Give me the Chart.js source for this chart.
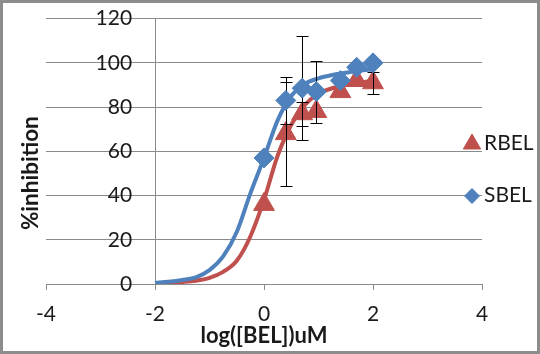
<!DOCTYPE html>
<html>
<head>
<meta charset="utf-8">
<script src="https://cdn.jsdelivr.net/npm/chart.js@4.4.0/dist/chart.umd.min.js"></script>
<style>
  html, body { margin: 0; padding: 0; background: #fff; }
  #wrap { width: 540px; height: 354px; box-sizing: border-box; border: 3px solid #8c8c8c; }
  canvas { display: block; }
</style>
</head>
<body>
<div id="wrap"><canvas id="chart" width="534" height="348"></canvas></div>
<script>
// measured points, log([BEL]) in uM
const concLog = [0, 0.4, 0.7, 0.96, 1.4, 1.7, 2];
const rbel = [36, 68, 77, 78, 87, 92, 91];
const rbelErr = [0, 23.5, 5.5, 0, 0, 0, 5];
const sbel = [57, 83, 88.5, 87, 92, 98, 100];
const sbelErr = [0, 10.5, 23.5, 14, 0, 0, 0];

// fitted curves
const fitX = [-2, -1.75, -1.5, -1.25, -1, -0.75, -0.5, -0.25, 0, 0.25, 0.5, 0.75, 1, 1.25, 1.5, 1.75, 2];
const rbelFit = [0.3, 0.5, 0.9, 1.5, 2.8, 5.5, 10.5, 21.5, 38, 58, 72, 81, 86, 88.5, 90, 91, 92];
const sbelFit = [0.5, 1.0, 1.8, 3.0, 6.3, 12.5, 23.5, 41, 57, 74, 85, 90.5, 93, 94.5, 95.5, 96.5, 97];

const xTickValues = [-4, -2, 0, 2, 4];
const yTickValues = [0, 20, 40, 60, 80, 100, 120];

const red = '#C0504D';
const blue = '#4F81BD';
const gridColor = '#8a8a8a';
const textColor = '#1a1a1a';

function pts(xs, ys) {
    return xs.map((x, i) => ({ x: x, y: ys[i] }));
}

function setYTicks(scale) {
    scale.ticks = yTickValues.map(v => ({ value: v }));
}

// error bars, drawn just before the top marker series so blue diamonds cover them
const errorBars = {
    id: 'errorBars',
    beforeDatasetDraw(chart, args) {
        if (!chart.data.datasets[args.index].errorsFirst) return;
        const ctx = chart.ctx;
        const xs = chart.scales.x, ys = chart.scales.y;
        ctx.save();
        ctx.strokeStyle = '#000';
        ctx.lineWidth = 1;
        chart.data.datasets.forEach(ds => {
            if (!ds.errors) return;
            ds.data.forEach((p, i) => {
                const e = ds.errors[i];
                if (!e) return;
                const px = Math.round(xs.getPixelForValue(p.x)) + 0.5;
                const top = Math.round(ys.getPixelForValue(p.y + e)) + 0.5;
                const bot = Math.round(ys.getPixelForValue(p.y - e)) + 0.5;
                ctx.beginPath();
                ctx.moveTo(px, top); ctx.lineTo(px, bot);
                ctx.moveTo(px - 6, top); ctx.lineTo(px + 6, top);
                ctx.moveTo(px - 6, bot); ctx.lineTo(px + 6, bot);
                ctx.stroke();
            });
        });
        ctx.restore();
    }
};

// Excel style legend sitting just right of the plot
const sideLegend = {
    id: 'sideLegend',
    afterDraw(chart) {
        const ctx = chart.ctx;
        const right = chart.chartArea.right;
        const items = [
            { text: 'RBEL', color: red, style: 'triangle', r: 10, y: 140 },
            { text: 'SBEL', color: blue, style: 'rectRot', r: 7.5, y: 192 }
        ];
        ctx.save();
        items.forEach(it => {
            ctx.fillStyle = it.color;
            ctx.strokeStyle = it.color;
            ctx.lineWidth = 1;
            Chart.helpers.drawPoint(ctx, { pointStyle: it.style, radius: it.r, rotation: 0, borderWidth: 1 }, right - 10, it.y + 1);
            ctx.fillStyle = textColor;
            ctx.font = '21px Lato';
            ctx.textAlign = 'left';
            ctx.textBaseline = 'middle';
            ctx.fillText(it.text, right + 2, it.y);
        });
        ctx.restore();
    }
};

new Chart(document.getElementById('chart'), {
    type: 'scatter',
    data: {
        datasets: [
            {
                label: 'SBEL',
                data: pts(concLog, sbel),
                errors: sbelErr,
                errorsFirst: true,
                pointStyle: 'rectRot',
                pointRadius: 10,
                backgroundColor: blue,
                borderColor: blue,
                borderWidth: 1,
                showLine: false
            },
            {
                label: 'RBEL',
                data: pts(concLog, rbel),
                errors: rbelErr,
                pointStyle: 'triangle',
                pointRadius: 12,
                backgroundColor: red,
                borderColor: red,
                borderWidth: 1,
                showLine: false
            },
            {
                label: 'SBEL fit',
                data: pts(fitX, sbelFit),
                showLine: true,
                borderColor: blue,
                borderWidth: 4,
                pointRadius: 0,
                cubicInterpolationMode: 'monotone'
            },
            {
                label: 'RBEL fit',
                data: pts(fitX, rbelFit),
                showLine: true,
                borderColor: red,
                borderWidth: 4,
                pointRadius: 0,
                cubicInterpolationMode: 'monotone'
            }
        ]
    },
    options: {
        responsive: false,
        animation: false,
        layout: { padding: { left: 14, right: 55, top: -5, bottom: 1.8 } },
        plugins: {
            legend: { display: false },
            tooltip: { enabled: false }
        },
        scales: {
            x: {
                type: 'linear',
                min: -4,
                max: 4,
                afterBuildTicks: scale => { scale.ticks = xTickValues.map(v => ({ value: v })); },
                grid: { drawOnChartArea: false, drawTicks: true, tickLength: 6, color: gridColor },
                border: { display: true, color: gridColor },
                ticks: { color: textColor, font: { family: 'Lato', size: 21 }, padding: 11.9 },
                title: {
                    display: true,
                    text: 'log([BEL])uM',
                    color: textColor,
                    font: { family: 'Lato', size: 22, weight: 'bold' },
                    padding: { top: -16.2, bottom: 0 }
                }
            },
            // vertical axis crosses at x = -2, as in the Excel original
            y: {
                type: 'linear',
                position: { x: -2 },
                min: 0,
                max: 120,
                afterBuildTicks: setYTicks,
                grid: { color: gridColor, drawTicks: false },
                border: { display: true, color: gridColor },
                ticks: { display: false }
            },
            // its labels, set a little left of the axis line
            yLabels: {
                axis: 'y',
                type: 'linear',
                position: { x: -2.42 },
                min: 0,
                max: 120,
                afterBuildTicks: setYTicks,
                grid: { display: false, drawTicks: false },
                border: { display: false },
                ticks: { color: textColor, font: { family: 'Lato', size: 21 } }
            },
            yTitle: {
                axis: 'y',
                type: 'linear',
                position: 'left',
                min: 0,
                max: 120,
                grid: { display: false, drawTicks: false },
                border: { display: false },
                ticks: { display: false },
                title: {
                    display: true,
                    text: '%inhibition        ',
                    color: textColor,
                    font: { family: 'Lato', size: 22.5, weight: 'bold' },
                    padding: { top: 0, bottom: 2 }
                }
            }
        }
    },
    plugins: [errorBars, sideLegend]
});
</script>
</body>
</html>
